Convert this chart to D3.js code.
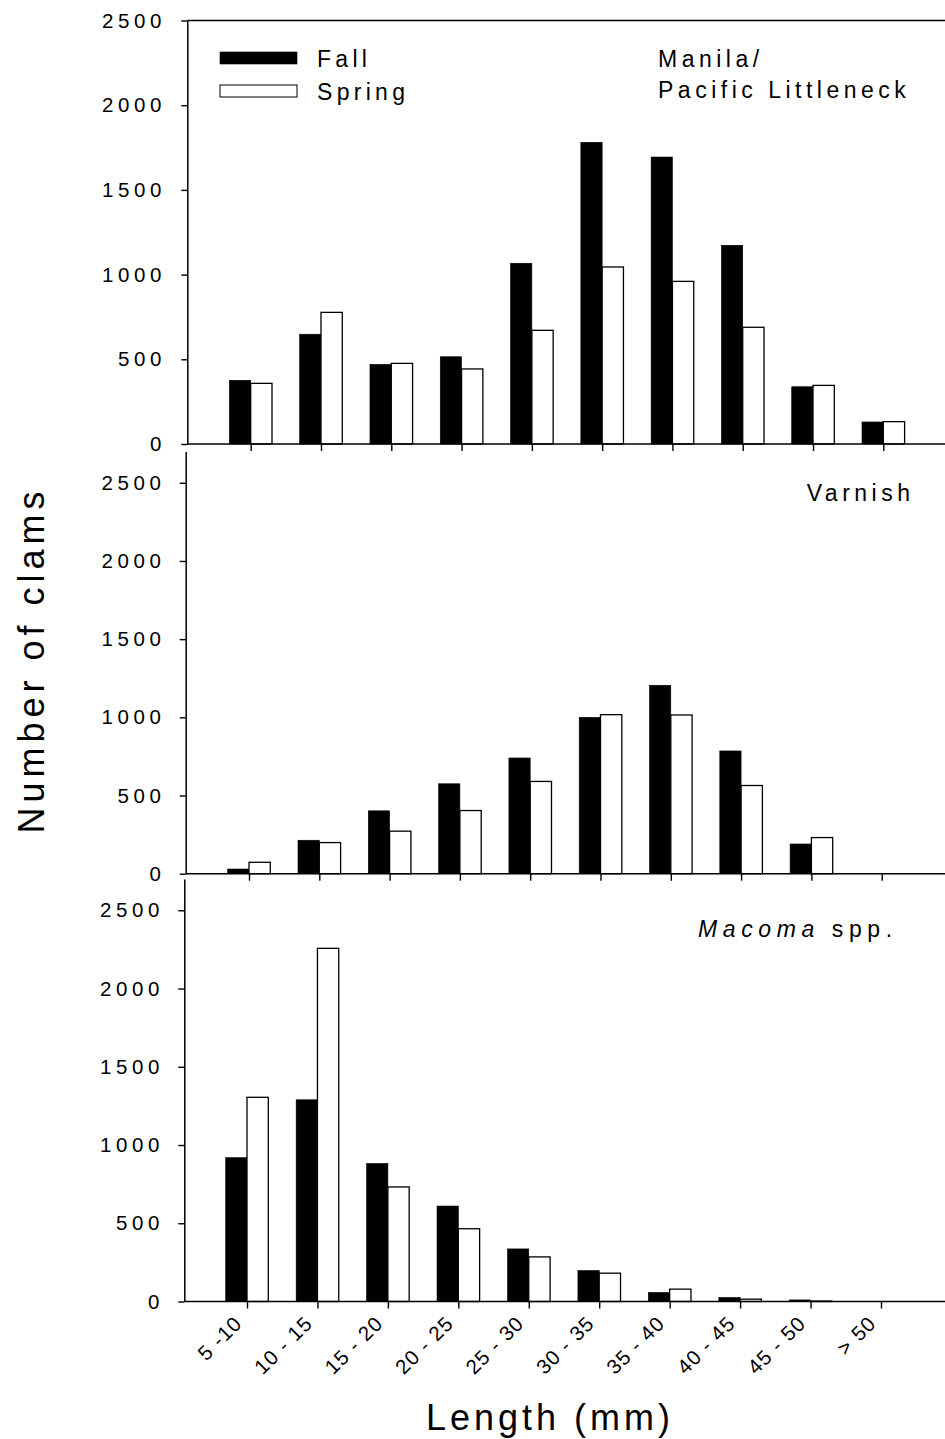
<!DOCTYPE html>
<html>
<head>
<meta charset="utf-8">
<script src="https://cdn.jsdelivr.net/npm/d3@7/dist/d3.min.js"></script>
<style>
  html, body { margin: 0; padding: 0; background: #fff; }
  svg { display: block; font-family: "Liberation Sans", Arial, Helvetica, sans-serif; }
</style>
</head>
<body>
<svg id="chart" width="945" height="1439"></svg>
<script>
// ---- data ----
const categories = ["5 -10", "10 - 15", "15 - 20", "20 - 25", "25 - 30", "30 - 35", "35 - 40", "40 - 45", "45 - 50", "> 50"];
const seriesNames = ["Fall", "Spring"];
const manilaFall   = [376, 648, 470, 515, 1067, 1781, 1694, 1173, 338, 130];
const manilaSpring = [358, 777, 476, 443, 671, 1045, 960, 689, 346, 132];
const varnishFall   = [30, 214, 402, 575, 740, 1000, 1205, 785, 190, 0];
const varnishSpring = [73, 199, 272, 404, 590, 1017, 1015, 564, 231, 0];
const macomaFall   = [919, 1289, 882, 610, 336, 198, 58, 26, 10, 0];
const macomaSpring = [1305, 2257, 732, 465, 285, 181, 79, 15, 3, 0];
const yTickValues = [0, 500, 1000, 1500, 2000, 2500];
const panelNames = ["Manila/Pacific Littleneck", "Varnish", "Macoma spp."];
const yAxisTitle = "Number of clams";
const xAxisTitle = "Length (mm)";

// ---- layout ----
const svg = d3.select("#chart");
const W = 945;
const panels = [
  { fall: manilaFall, spring: manilaSpring, yMax: 2500, axisX: 187.3, y0: 444, yTop: 20.5, t0: 250.7, t1: 883.3, border: true, labelRight: 161.5 },
  { fall: varnishFall, spring: varnishSpring, yMax: 2700, axisX: 185.7, y0: 873.7, yTop: 451.5, t0: 249, t1: 881.7, labelRight: 161 },
  { fall: macomaFall, spring: macomaSpring, yMax: 2700, axisX: 184.3, y0: 1301.5, yTop: 879, t0: 247, t1: 881, labels: true, labelRight: 159.5 }
];
const barW = 21.3;
const tickFont = 20.5, tickLS = 4.6, xTickFont = 20.5, xTickLS = 1.2;

panels.forEach((p, pi) => {
  const g = svg.append("g");
  const x = d3.scalePoint().domain(categories).range([p.t0, p.t1]);
  const xs = d3.scaleBand().domain(seriesNames).range([-barW, barW]);
  const y = d3.scaleLinear().domain([0, p.yMax]).range([p.y0, p.yTop]);

  // bars
  const rows = categories.map((c, i) => ({ c, Fall: p.fall[i], Spring: p.spring[i] }));
  rows.forEach(r => {
    seriesNames.forEach(s => {
      const v = r[s];
      if (v <= 0) return;
      g.append("rect")
        .attr("x", x(r.c) + xs(s))
        .attr("y", y(v))
        .attr("width", xs.bandwidth())
        .attr("height", y(0) - y(v))
        .attr("fill", s === "Fall" ? "#000" : "#fff")
        .attr("stroke", "#000")
        .attr("stroke-width", s === "Fall" ? 0.6 : 1.3);
    });
  });

  // x axis line
  g.append("line")
    .attr("x1", p.axisX).attr("x2", W)
    .attr("y1", p.y0).attr("y2", p.y0)
    .attr("stroke", "#000").attr("stroke-width", 1.5);
  // top border
  if (p.border) {
    g.append("line")
      .attr("x1", p.axisX).attr("x2", W)
      .attr("y1", p.yTop).attr("y2", p.yTop)
      .attr("stroke", "#000").attr("stroke-width", 1.5);
  }

  // x ticks
  const xAxis = g.append("g")
    .attr("transform", `translate(0,${p.y0})`)
    .call(d3.axisBottom(x).tickSize(7).tickSizeOuter(0));
  xAxis.attr("font-family", null).attr("font-size", null);
  xAxis.select(".domain").remove();
  xAxis.selectAll("line").attr("stroke-width", 1.4);
  if (p.labels) {
    xAxis.selectAll("text")
      .attr("font-size", xTickFont)
      .attr("letter-spacing", xTickLS)
      .attr("text-anchor", "end")
      .attr("dy", null)
      .attr("y", null)
      .attr("transform", "translate(-4,23) rotate(-45)")
      .attr("fill", "#000");
  } else {
    xAxis.selectAll("text").remove();
  }

  // y axis
  const yAxis = g.append("g")
    .attr("transform", `translate(${p.axisX},0)`)
    .call(d3.axisLeft(y).tickValues(yTickValues).tickFormat(d3.format("d")).tickSize(6).tickSizeOuter(0));
  yAxis.attr("font-family", null).attr("font-size", null);
  yAxis.select(".domain").attr("stroke-width", 1.5);
  yAxis.selectAll("line").attr("stroke-width", 1.4);
  yAxis.selectAll("text")
    .attr("font-size", tickFont)
    .attr("letter-spacing", tickLS)
    .attr("x", (p.labelRight + tickLS) - p.axisX)
    .attr("fill", "#000");
});

// legend
const legendY = [52, 85];
seriesNames.forEach((s, i) => {
  svg.append("rect")
    .attr("x", 220).attr("y", legendY[i])
    .attr("width", 77).attr("height", 12)
    .attr("fill", s === "Fall" ? "#000" : "#fff")
    .attr("stroke", "#000").attr("stroke-width", s === "Fall" ? 0.6 : 1);
  svg.append("text")
    .attr("x", 317).attr("y", legendY[i] + 14.5)
    .attr("font-size", 23).attr("letter-spacing", 4.3)
    .text(s);
});

// panel titles
const annFS = 23, annLS = 4.5;
svg.append("text").attr("x", 658).attr("y", 66.7)
  .attr("font-size", annFS).attr("letter-spacing", annLS).text("Manila/");
svg.append("text").attr("x", 658).attr("y", 98.3)
  .attr("font-size", annFS).attr("letter-spacing", annLS).text("Pacific Littleneck");
svg.append("text").attr("x", 910 + annLS).attr("y", 501)
  .attr("text-anchor", "end")
  .attr("font-size", annFS).attr("letter-spacing", annLS).text(panelNames[1]);
const mac = svg.append("text").attr("x", 698).attr("y", 936.7)
  .attr("font-size", annFS).attr("letter-spacing", 5.6);
mac.append("tspan").attr("font-style", "italic").text("Macoma");
mac.append("tspan").text(" spp.");

// axis titles
svg.append("text")
  .attr("transform", "translate(44,660) rotate(-90)")
  .attr("text-anchor", "middle")
  .attr("font-size", 36).attr("letter-spacing", 5)
  .text(yAxisTitle);
svg.append("text")
  .attr("x", 548 + 2).attr("y", 1430)
  .attr("text-anchor", "middle")
  .attr("font-size", 36).attr("letter-spacing", 4)
  .text(xAxisTitle);
</script>
</body>
</html>
